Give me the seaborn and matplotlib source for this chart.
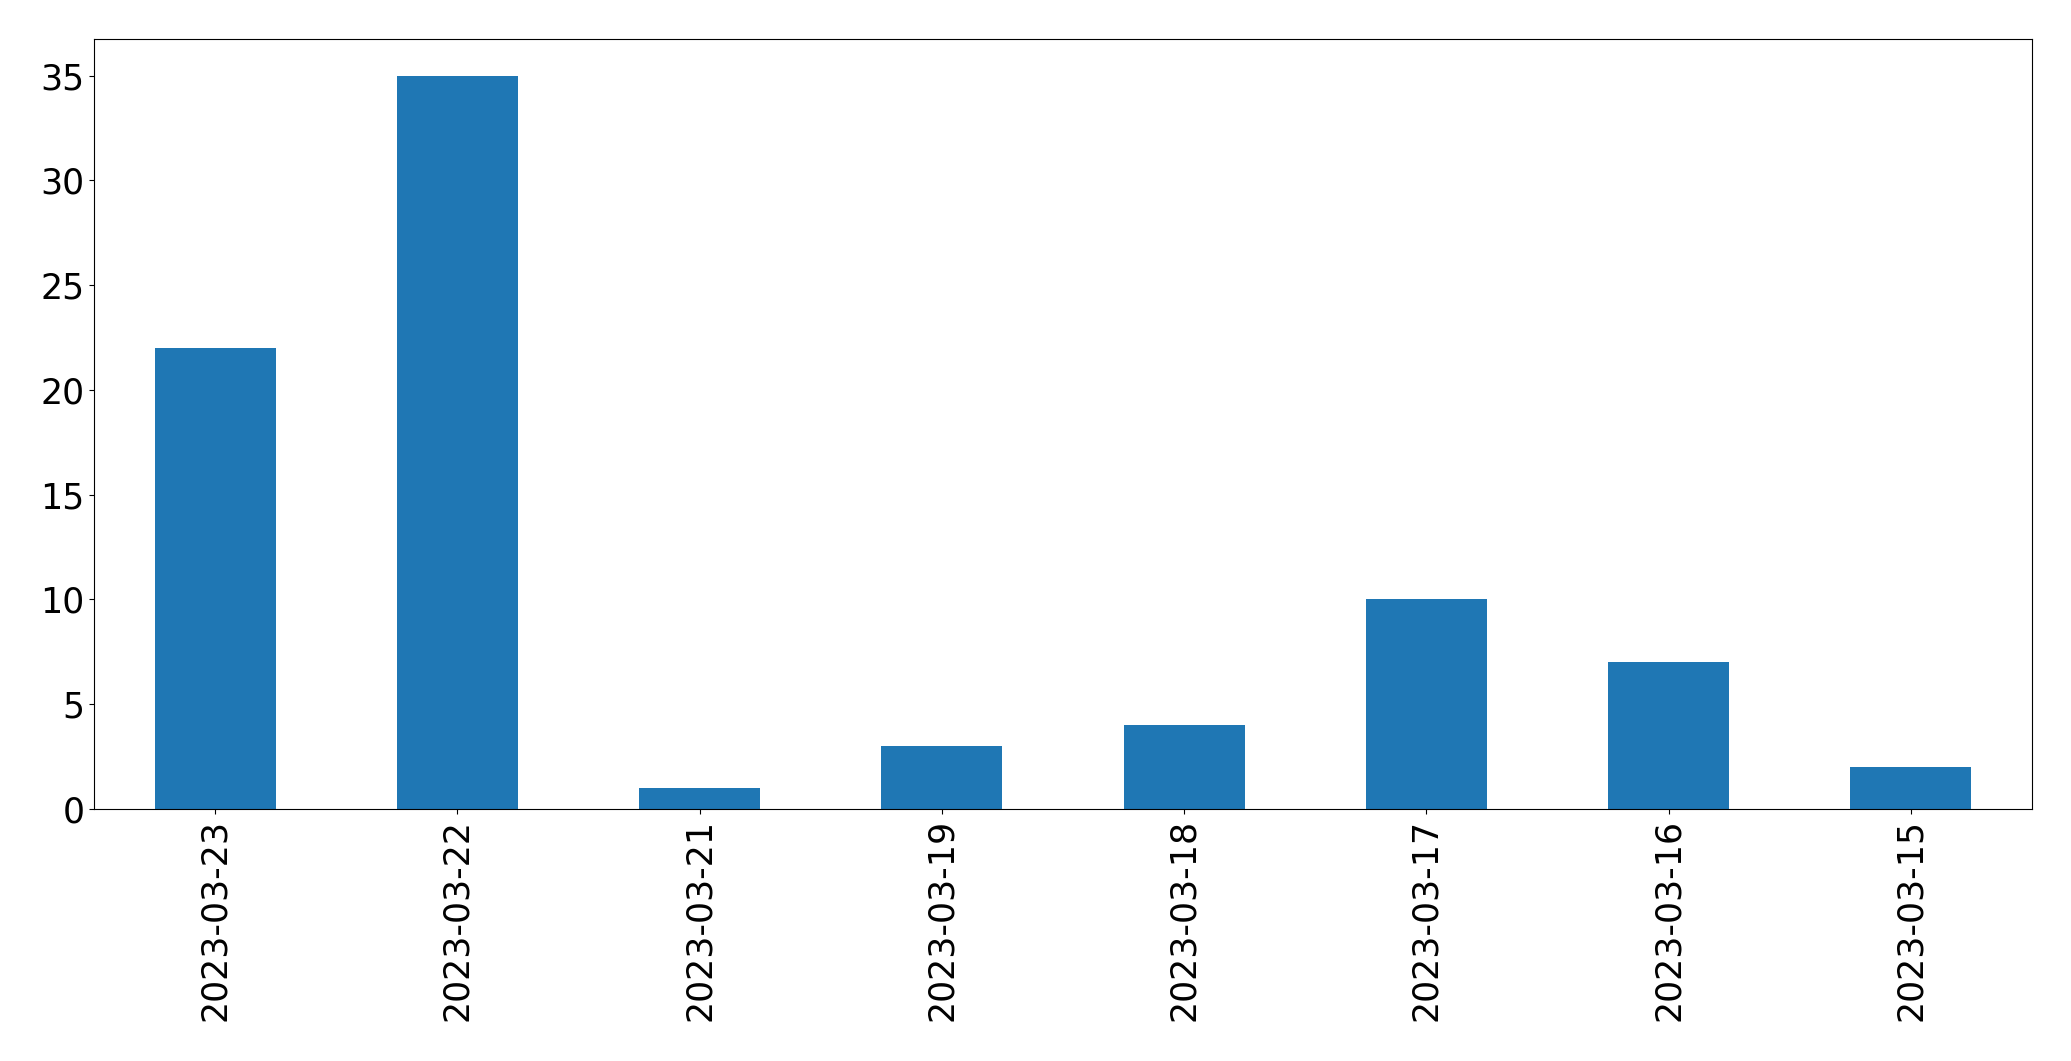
import matplotlib
matplotlib.use("Agg")
import matplotlib.pyplot as plt
import seaborn as sns
import pandas as pd


dates = [
    "2023-03-23",
    "2023-03-22",
    "2023-03-21",
    "2023-03-19",
    "2023-03-18",
    "2023-03-17",
    "2023-03-16",
    "2023-03-15",
]
counts = [22, 35, 1, 3, 4, 10, 7, 2]


def main():
    df = pd.DataFrame({"date": dates, "count": counts})

    fig = plt.figure(figsize=(20.71, 10.61), dpi=100)
    ax = fig.add_axes([94 / 2071, 1 - 809 / 1061, (2032 - 94) / 2071, (809 - 39) / 1061])

    sns.barplot(
        data=df,
        x="date",
        y="count",
        order=dates,
        color="#1f77b4",
        saturation=1,
        width=0.5,
        ax=ax,
    )

    ax.set_xlim(-0.5, len(dates) - 0.5)
    ax.set_ylim(0, max(counts) * 1.05)
    ax.set_xlabel("")
    ax.set_ylabel("")
    ax.tick_params(axis="both", labelsize=25)
    plt.setp(ax.get_xticklabels(), rotation=90)

    fig.savefig("out.png", dpi=100)
    plt.close(fig)


if __name__ == "__main__":
    main()
